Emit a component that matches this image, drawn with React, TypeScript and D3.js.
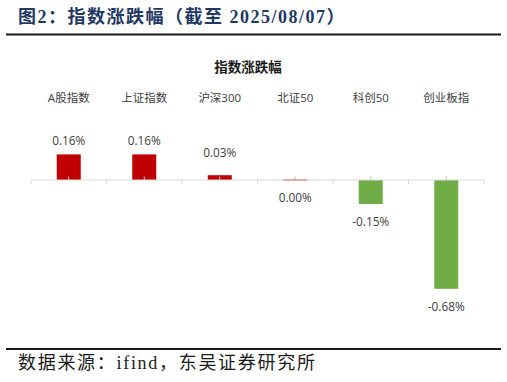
import React from "react";
import * as d3 from "d3";

const categories = ["A股指数", "上证指数", "沪深300", "北证50", "科创50", "创业板指"];
const values = [0.16, 0.16, 0.03, 0.0, -0.15, -0.68];
const valueLabels = ["0.16%", "0.16%", "0.03%", "0.00%", "-0.15%", "-0.68%"];

const W = 507;
const H = 382;
const RED = "#C00000";
const GREEN = "#70AD47";
const SANS = "'Open Sans','Noto Sans CJK SC',sans-serif";
const SERIF = "'Liberation Serif','Noto Sans CJK SC',serif";

export default function App() {
  const x = d3.scaleBand<string>().domain(categories).range([31, 484]).padding(0);
  const y = d3.scaleLinear().domain([-0.7, 0.2]).range([292, 148]);
  const y0 = y(0);
  const bw = x.bandwidth() * 0.318;

  return (
    <svg
      width={W}
      height={H}
      style={{ position: "absolute", left: 0, top: 0, background: "#fff" }}
    >
      <rect x={0} y={0} width={W} height={H} fill="#fff" />
      <text
        x={18}
        y={16.5}
        dominantBaseline="central"
        fontFamily={SERIF}
        fontWeight="bold"
        fontSize={18}
        letterSpacing={1.5}
        fill="#1F3864"
      >
        图2：指数涨跌幅（截至 2025/08/07）
      </text>
      <line x1={6} x2={501} y1={34.5} y2={34.5} stroke="#1a1a1a" strokeWidth={2} />

      <text
        x={248}
        y={67}
        textAnchor="middle"
        dominantBaseline="central"
        fontFamily={SANS}
        fontWeight="bold"
        fontSize={13.5}
        fill="#1a1a1a"
      >
        指数涨跌幅
      </text>

      {categories.map((c) => (
        <text
          key={"c" + c}
          x={(x(c) as number) + x.bandwidth() / 2}
          y={97.5}
          textAnchor="middle"
          dominantBaseline="central"
          fontFamily={SANS}
          fontSize={11.5}
          fill="#404040"
        >
          {c}
        </text>
      ))}

      {categories.map((c, i) => {
        const v = values[i];
        const cx = (x(c) as number) + x.bandwidth() / 2;
        const yv = y(v);
        const top = Math.min(yv, y0);
        const h = Math.max(1, Math.abs(yv - y0));
        return (
          <rect
            key={"b" + c}
            x={cx - bw / 2}
            y={v >= 0 ? top - (h === 1 ? 0.5 : 0) : top}
            width={bw}
            height={h}
            fill={v >= 0 ? RED : GREEN}
          />
        );
      })}

      <line x1={31} x2={484} y1={y0} y2={y0} stroke="#D9D9D9" strokeWidth={1} />
      {d3.range(categories.length + 1).map((i) => {
        const tx = i < categories.length ? (x(categories[i]) as number) : x.range()[1];
        return (
          <line key={"t" + i} x1={tx} x2={tx} y1={y0} y2={y0 + 4} stroke="#D9D9D9" strokeWidth={1} />
        );
      })}
      {categories.map((c) => {
        const cx = (x(c) as number) + x.bandwidth() / 2;
        return (
          <line key={"m" + c} x1={cx} x2={cx} y1={y0 - 3.5} y2={y0} stroke="#BFBFBF" strokeWidth={1} />
        );
      })}

      {categories.map((c, i) => {
        const v = values[i];
        const cx = (x(c) as number) + x.bandwidth() / 2;
        const yv = y(v);
        const ly = v > 0 ? Math.min(yv - 14, y0 - 28) : Math.max(yv + 17, y0 + 16);
        return (
          <text
            key={"l" + c}
            x={cx}
            y={ly}
            textAnchor="middle"
            dominantBaseline="central"
            fontFamily={SANS}
            fontSize={11.8}
            fill="#404040"
          >
            {valueLabels[i]}
          </text>
        );
      })}

      <line x1={6} x2={501} y1={349} y2={349} stroke="#1a1a1a" strokeWidth={2} />
      <text
        x={18}
        y={363}
        dominantBaseline="central"
        fontFamily={SERIF}
        fontSize={18}
        letterSpacing={1.7}
        fill="#1a1a1a"
      >
        数据来源：ifind，东吴证券研究所
      </text>
    </svg>
  );
}
